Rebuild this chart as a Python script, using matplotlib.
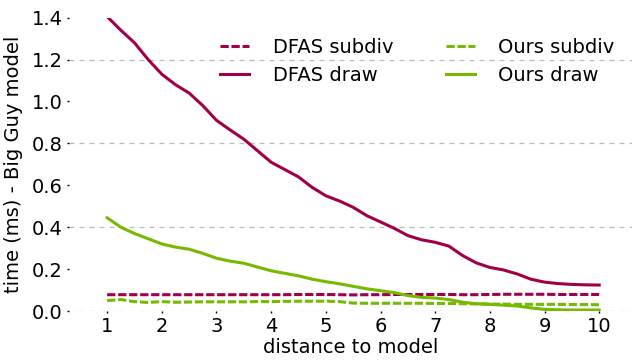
import numpy as np
import matplotlib.pyplot as plt

# distance samples shared by all four series
distance = np.arange(1.0, 10.01, 0.25)

dfas_draw = [1.405, 1.34, 1.28, 1.20, 1.13, 1.08, 1.04, 0.98, 0.91, 0.864,
             0.82, 0.765, 0.71, 0.675, 0.64, 0.59, 0.55, 0.525, 0.495, 0.455,
             0.425, 0.395, 0.36, 0.34, 0.328, 0.31, 0.265, 0.23, 0.208, 0.196,
             0.177, 0.152, 0.138, 0.131, 0.127, 0.125, 0.124]
dfas_subdiv = [0.078, 0.078, 0.078, 0.078, 0.078, 0.078, 0.078, 0.078, 0.078, 0.078,
               0.078, 0.078, 0.078, 0.078, 0.079, 0.079, 0.079, 0.078, 0.077, 0.078,
               0.078, 0.079, 0.079, 0.079, 0.079, 0.079, 0.078, 0.078, 0.079, 0.080,
               0.080, 0.080, 0.080, 0.079, 0.079, 0.079, 0.079]
ours_draw = [0.445, 0.40, 0.37, 0.345, 0.32, 0.305, 0.295, 0.275, 0.252, 0.238,
             0.228, 0.21, 0.192, 0.18, 0.168, 0.152, 0.14, 0.13, 0.118, 0.106,
             0.097, 0.088, 0.074, 0.065, 0.062, 0.055, 0.042, 0.035, 0.032, 0.028,
             0.024, 0.015, 0.008, 0.006, 0.005, 0.005, 0.005]
ours_subdiv = [0.050, 0.055, 0.045, 0.041, 0.045, 0.042, 0.043, 0.044, 0.044, 0.044,
               0.044, 0.045, 0.045, 0.046, 0.047, 0.047, 0.047, 0.045, 0.038, 0.037,
               0.037, 0.037, 0.037, 0.037, 0.036, 0.036, 0.035, 0.034, 0.033, 0.033,
               0.032, 0.032, 0.032, 0.032, 0.031, 0.031, 0.030]

RED = '#a00048'
GREEN = '#76b900'
DASH = (0, (2.7, 0.9))

fig = plt.figure(figsize=(6.32, 3.6), dpi=100)
ax = fig.add_axes([0.109, 0.136, 0.891, 0.815])

for y in [0.0, 0.4, 0.8, 1.2]:
    ax.axhline(y, color='#bbbbbb', lw=0.9, ls=(0, (4, 4)), zorder=0)

ax.plot(distance, dfas_subdiv, color=RED, lw=2.2, ls=DASH, label='DFAS subdiv')
ax.plot(distance, dfas_draw, color=RED, lw=2.2, label='DFAS draw')
ax.plot(distance, ours_subdiv, color=GREEN, lw=2.2, ls=DASH, label='Ours subdiv')
ax.plot(distance, ours_draw, color=GREEN, lw=2.2, label='Ours draw')

ax.set_xlim(0.3, 10.6)
ax.set_ylim(0, 1.4)
ax.set_xticks(range(1, 11))
ax.set_yticks(np.arange(0, 1.41, 0.2))
ax.set_yticklabels([f'{v:.1f}' for v in np.arange(0, 1.41, 0.2)])
for s in ax.spines.values():
    s.set_visible(False)
ax.tick_params(axis='y', length=1.5, width=1, labelsize=14, pad=3)
ax.tick_params(axis='x', length=1.5, width=1, labelsize=14, pad=3)

ax.set_xlabel('distance to model', fontsize=14, labelpad=1)
ax.set_ylabel('time (ms) - Big Guy model', fontsize=14, labelpad=6)

ax.legend(ncol=2, frameon=False, fontsize=14, loc='upper right',
          bbox_to_anchor=(1.0, 0.99), handlelength=1.5, handletextpad=1.2,
          columnspacing=2.7, labelspacing=0.45)

fig.savefig('out.png', dpi=100)
